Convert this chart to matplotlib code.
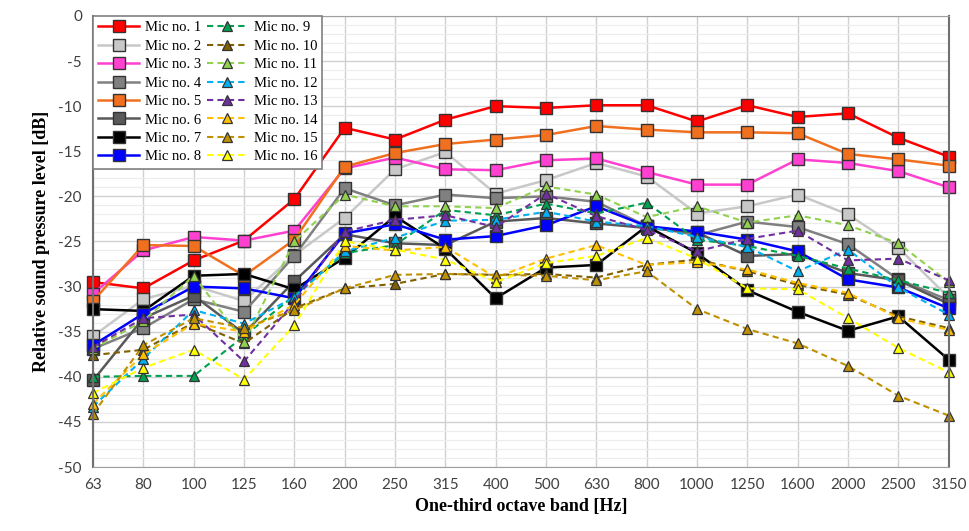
import matplotlib
matplotlib.use('Agg')
import matplotlib.pyplot as plt
from matplotlib.ticker import MultipleLocator

plt.rcParams['axes.unicode_minus'] = False

bands = ['63', '80', '100', '125', '160', '200', '250', '315', '400', '500',
         '630', '800', '1000', '1250', '1600', '2000', '2500', '3150']

mic1 = [-29.5, -30.2, -27.1, -24.9, -20.3, -12.4, -13.7, -11.5, -10.0, -10.2, -9.9, -9.9, -11.7, -9.9, -11.2, -10.8, -13.5, -15.6]
mic2 = [-35.5, -31.4, -29.9, -31.6, -26.5, -22.4, -17.0, -15.1, -19.7, -18.2, -16.3, -17.8, -21.9, -21.1, -19.8, -22.0, -25.7, -31.2]
mic3 = [-30.8, -26.0, -24.5, -24.9, -23.8, -16.9, -15.7, -17.0, -17.1, -16.0, -15.8, -17.3, -18.7, -18.7, -15.9, -16.3, -17.2, -19.0]
mic4 = [-36.9, -34.6, -31.4, -32.8, -26.6, -19.1, -21.0, -19.8, -20.2, -20.0, -20.6, -23.3, -24.3, -22.8, -23.4, -25.3, -29.2, -31.5]
mic5 = [-31.6, -25.4, -25.5, -28.8, -24.8, -16.7, -15.2, -14.2, -13.7, -13.2, -12.2, -12.6, -12.9, -12.9, -13.0, -15.3, -15.9, -16.6]
mic6 = [-40.4, -33.5, -31.0, -35.2, -29.4, -24.2, -25.2, -25.4, -22.8, -22.4, -23.0, -23.5, -24.0, -26.6, -26.4, -28.5, -29.3, -31.9]
mic7 = [-32.5, -32.7, -28.8, -28.6, -30.3, -26.8, -22.2, -25.8, -31.3, -27.9, -27.6, -23.3, -26.3, -30.4, -32.8, -34.9, -33.3, -38.1]
mic8 = [-36.5, -33.0, -30.0, -30.2, -31.3, -24.1, -23.1, -24.8, -24.4, -23.2, -21.1, -23.3, -23.9, -24.8, -26.1, -29.2, -30.1, -32.4]
mic9 = [-40.0, -39.9, -39.9, -35.5, -31.0, -26.3, -25.4, -21.5, -22.1, -20.8, -21.9, -20.7, -24.8, -25.5, -26.6, -28.0, -29.3, -30.7]
mic10 = [-37.6, -37.0, -34.0, -36.3, -32.4, -30.2, -29.7, -28.6, -28.7, -28.6, -29.0, -27.6, -27.0, -28.3, -29.8, -30.9, -33.3, -34.6]
mic11 = [-36.9, -33.8, -28.8, -36.1, -25.0, -19.8, -21.1, -21.1, -21.3, -18.9, -19.8, -22.3, -21.1, -22.9, -22.1, -23.2, -25.2, -29.5]
mic12 = [-43.3, -38.0, -32.6, -34.1, -31.2, -26.1, -24.6, -22.7, -22.6, -21.7, -22.8, -23.3, -24.5, -25.6, -28.3, -25.9, -30.1, -33.1]
mic13 = [-36.7, -33.5, -33.1, -38.3, -31.7, -23.9, -22.6, -22.1, -23.4, -19.7, -22.2, -23.7, -26.1, -24.7, -23.8, -27.1, -26.9, -29.3]
mic14 = [-43.0, -37.5, -34.1, -35.0, -32.0, -25.5, -26.0, -25.6, -29.0, -26.9, -25.4, -27.6, -27.3, -28.1, -29.6, -30.7, -33.5, -34.8]
mic15 = [-44.1, -36.5, -33.5, -34.6, -32.6, -30.2, -28.7, -28.6, -28.7, -28.8, -29.3, -28.3, -32.5, -34.7, -36.3, -38.8, -42.1, -44.3]
mic16 = [-41.8, -39.0, -37.0, -40.3, -34.3, -25.0, -25.9, -27.0, -29.5, -27.4, -26.6, -24.6, -26.9, -30.2, -30.3, -33.5, -36.8, -39.5]

series = [mic1, mic2, mic3, mic4, mic5, mic6, mic7, mic8,
          mic9, mic10, mic11, mic12, mic13, mic14, mic15, mic16]
colors = ['#ff0000', '#c8c8c8', '#ff40d0', '#808080', '#f07020', '#595959', '#000000', '#0000ff',
          '#00a050', '#806000', '#92d050', '#00b0f0', '#7030a0', '#ffc000', '#bf9000', '#ffff00']

fig, ax = plt.subplots(figsize=(9.69, 5.31), dpi=100)
fig.subplots_adjust(left=0.096, right=0.979, top=0.970, bottom=0.1205)

x = list(range(len(bands)))
for i, (vals, c) in enumerate(zip(series, colors)):
    if i < 8:
        ax.plot(x, vals, color=c, lw=1.8, marker='s', markersize=8.5,
                markerfacecolor=c, markeredgecolor='#333333', markeredgewidth=1.0,
                label='Mic no. %d' % (i + 1), clip_on=False)
    else:
        ax.plot(x, vals, color=c, lw=1.5, ls=(0, (3, 2)), marker='^', markersize=7.5,
                markerfacecolor=c, markeredgecolor='#333333', markeredgewidth=0.9,
                label='Mic no. %d' % (i + 1), clip_on=False)

ax.set_xlim(0, len(bands) - 1)
ax.set_ylim(-50, 0)
ax.set_xticks(x)
ax.set_xticklabels(bands)
ax.yaxis.set_major_locator(MultipleLocator(5))
ax.yaxis.set_minor_locator(MultipleLocator(1))
ax.tick_params(axis='both', which='both', length=0, labelsize=11, colors='#404040', pad=8)
for lab in ax.get_xticklabels() + ax.get_yticklabels():
    lab.set_fontfamily('Lato')

ax.grid(True, which='major', color='#d0d0d0', lw=1.0)
ax.grid(True, which='minor', axis='y', color='#ececec', lw=0.8)
ax.set_axisbelow(True)
for side in ['top', 'bottom']:
    ax.spines[side].set_color('#a0a0a0')
for side in ['left', 'right']:
    ax.spines[side].set_color('#707070')
    ax.spines[side].set_linewidth(1.5)

ax.set_xlabel('One-third octave band [Hz]', fontsize=13, fontweight='bold',
              family='Liberation Serif', labelpad=4)
ax.set_ylabel('Relative sound pressure level [dB]', fontsize=13, fontweight='bold',
              family='Liberation Serif', labelpad=6)

leg = ax.legend(loc='upper left', ncol=2, prop={'family': 'Liberation Serif', 'size': 10.5},
                handlelength=2.8, columnspacing=0.4, handletextpad=0.4, labelspacing=0.36,
                borderaxespad=0.0, fancybox=False, framealpha=1, edgecolor='#808080',
                borderpad=0.35)
leg.get_frame().set_linewidth(1.2)
leg.set_zorder(5)

fig.savefig('out.png', dpi=100)
